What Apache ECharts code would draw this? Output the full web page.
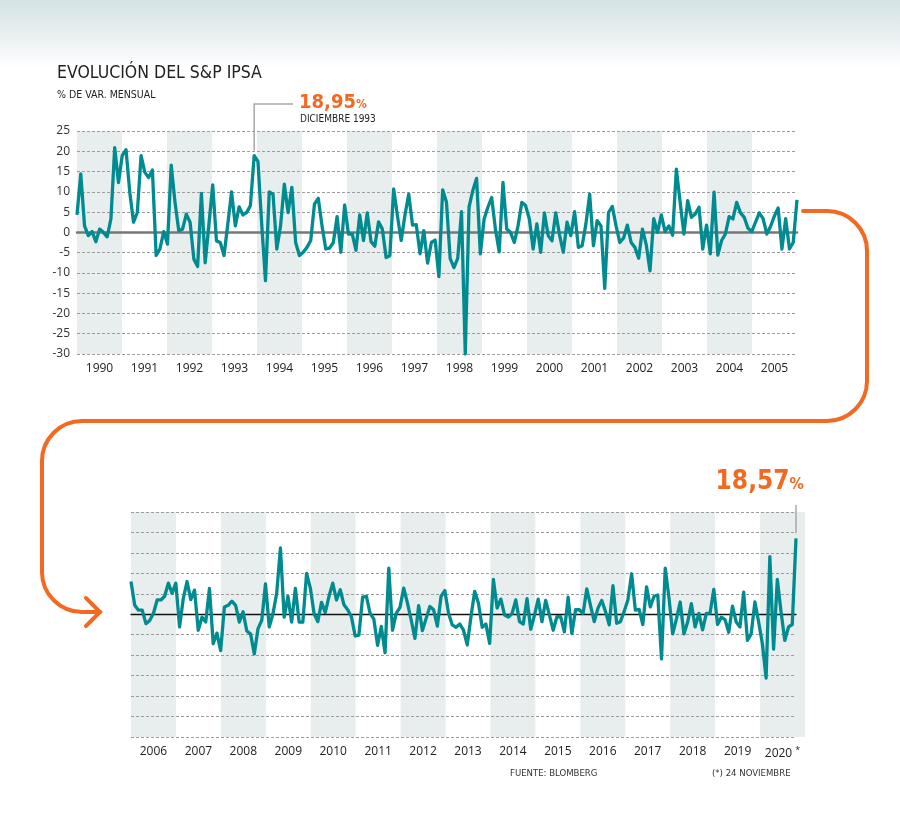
<!DOCTYPE html>
<html lang="es">
<head>
    <meta charset="UTF-8"/>
    <title>Evolución del S&amp;P IPSA</title>
    <script src="https://cdn.jsdelivr.net/npm/echarts@6/dist/echarts.min.js"></script>
    <style>
        html, body { margin: 0; padding: 0; }
        body {
            width: 900px; height: 821px;
            background: linear-gradient(to bottom, #d4e2e6 0px, #e9f0f1 35px, #ffffff 68px, #ffffff 100%);
        }
        #chart { width: 900px; height: 821px; }
    </style>
</head>
<body>
<div id="chart"></div>
<script type="text/javascript">
    // años de cada panel
    var yearsTop = ['1990', '1991', '1992', '1993', '1994', '1995', '1996', '1997',
        '1998', '1999', '2000', '2001', '2002', '2003', '2004', '2005'];
    var yearsBottom = ['2006', '2007', '2008', '2009', '2010', '2011', '2012', '2013',
        '2014', '2015', '2016', '2017', '2018', '2019', '2020'];

    // % de variacion mensual, ene 1990 - dic 2005
    var ipsaTop = [
        4.3, 14.4, 1.6, -0.8, 0.2, -2.3, 0.8, 0.0, -1.1, 3.3, 20.9, 12.3,
        18.9, 20.4, 9.9, 2.5, 4.9, 18.9, 14.8, 13.5, 15.4, -5.7, -4.1, 0.2,
        -2.9, 16.6, 7.4, 0.4, 0.8, 4.5, 2.5, -6.6, -8.4, 9.6, -7.5, 2.0,
        11.7, -2.1, -2.5, -5.7, 2.0, 10.0, 1.6, 6.3, 4.3, 4.9, 6.6, 18.95,
        17.5, 2.0, -11.9, 10.0, 9.4, -4.1, 1.6, 11.9, 4.9, 11.1, -2.5, -5.7,
        -4.9, -3.7, -2.0, 7.0, 8.4, 1.6, -4.1, -3.9, -2.5, 3.9, -4.9, 6.8,
        -0.4, -0.4, -4.4, 4.3, -2.0, 4.8, -2.3, -3.4, 2.6, 0.8, -6.2, -5.7,
        10.7, 4.1, -2.0, 4.3, 9.4, 1.8, 1.9, -5.3, 0.4, -7.6, -2.5, -1.9,
        -10.9, 10.5, 7.5, -6.5, -8.7, -6.4, 5.1, -30.0, 6.2, 10.3, 13.3, -5.3,
        3.3, 6.2, 8.6, 0.8, -4.8, 12.3, 0.8, 0.0, -2.5, 1.6, 7.4, 6.6,
        3.3, -4.1, 2.1, -4.9, 4.8, -0.8, -2.1, 4.8, -0.6, -4.9, 2.5, -0.8,
        5.1, -3.7, -3.3, 2.1, 9.4, -3.3, 2.9, 1.6, -13.8, 4.9, 6.4, 1.6,
        -2.5, -1.4, 1.8, -2.5, -3.7, -6.4, 0.8, -3.0, -9.5, 3.4, 0.0, 4.3,
        0.2, 1.6, -0.7, 15.6, 7.4, -0.4, 7.8, 3.7, 4.5, 6.2, -4.1, 1.8,
        -5.3, 9.9, -5.6, -2.0, -0.4, 3.9, 3.3, 7.4, 4.8, 3.7, 1.0, 0.2,
        2.5, 4.8, 3.4, -0.4, 1.5, 4.0, 6.0, -4.1, 3.4, -4.1, -2.5, 8.0
    ];

    // % de variacion mensual, ene 2006 - nov 2020
    var ipsaBottom = [
        8.0, 2.2, 1.0, 1.0, -2.3, -1.5, 0.2, 3.5, 3.5, 4.4, 7.6, 5.1,
        7.6, -3.1, 3.9, 8.0, 3.6, 5.9, -3.9, -0.7, -1.9, 6.3, -7.2, -4.6,
        -8.9, 1.8, 2.2, 3.2, 2.2, -1.9, 0.6, -4.1, -4.8, -9.7, -3.5, -1.5,
        7.4, -3.1, 0.2, 5.1, 16.2, -0.7, 4.4, -1.9, 6.3, -1.9, -1.9, 10.0,
        6.4, 0.2, -1.8, 2.9, 0.4, 4.4, 7.6, 3.5, 6.0, 2.3, 1.1, -0.6,
        -5.3, -5.1, 4.2, 4.4, 0.2, -1.2, -7.6, -3.0, -9.4, 11.3, -3.9, 0.2,
        1.7, 6.4, 2.7, -1.4, -5.9, 2.1, -4.0, -1.0, 1.9, 1.1, -2.9, 4.4,
        5.8, 0.2, -2.6, -3.2, -2.4, -3.9, -7.5, -0.6, 5.6, 2.7, -3.2, -2.4,
        -7.1, 8.5, 1.5, 3.7, -0.2, -0.7, 0.2, 3.5, -1.8, -2.4, 3.8, -3.7,
        -0.2, 3.7, -1.8, 3.4, -0.2, -3.9, -0.6, -0.6, -4.3, 4.2, -4.7, 1.1,
        1.1, 0.2, 6.2, 2.1, -1.8, 1.5, 3.4, 0.7, -2.6, 7.0, -2.2, -1.8,
        0.7, 3.5, 9.9, 1.0, 1.2, -2.5, 6.7, 1.8, 4.4, 4.7, -10.9, 11.3,
        4.0, -4.8, -1.1, 3.0, -4.8, -1.9, 2.6, -3.1, 0.2, -3.8, 0.2, 0.3,
        6.1, -2.5, -0.7, -1.3, -4.4, 2.0, -1.9, -3.1, 5.4, -6.4, -4.8, 3.0,
        -1.9, -7.2, -15.6, 14.1, -8.5, 8.5, 0.6, -6.4, -3.1, -2.5, 18.57
    ];

    var yMin = -30, yMax = 25, yStep = 5;
    var markTop = 47;      // diciembre 1993
    var markBottom = 178;  // noviembre 2020

    function monthsOf(years, count) {
        var out = [];
        years.forEach(function (y) {
            for (var m = 1; m <= 12; m++) out.push(y + '-' + (m < 10 ? '0' + m : m));
        });
        return out.slice(0, count);
    }
    var monthsTop = monthsOf(yearsTop, ipsaTop.length);
    var monthsBottom = monthsOf(yearsBottom, ipsaBottom.length);

    var teal = '#008b91';
    var orange = '#f26a22';
    var bandColor = '#e8eded';
    var fontAxis = "'Open Sans', 'Noto Sans', sans-serif";
    var fontHead = "'DejaVu Sans Condensed', Roboto, sans-serif";

    function withMark(values, idx) {
        return values.map(function (v, i) {
            if (i !== idx) return v;
            return {
                value: v, symbol: 'circle', symbolSize: 8,
                itemStyle: {color: '#ffffff', borderColor: '#f5a623', borderWidth: 2}
            };
        });
    }

    function yAxisOf(grid, showLabels) {
        return {
            type: 'value', gridIndex: grid, min: yMin, max: yMax, interval: yStep, z: 2,
            axisLine: {show: false}, axisTick: {show: false},
            axisLabel: {show: showLabels, color: '#333', fontSize: 12, fontFamily: fontAxis, margin: 7},
            splitLine: {show: true, lineStyle: {color: '#9c9c9c', type: [3, 2], width: 1}}
        };
    }

    function hiddenY(grid) {
        return {type: 'value', gridIndex: grid, min: yMin, max: yMax, show: false, splitLine: {show: false}};
    }

    function bandAxisOf(grid, years) {
        return {
            type: 'category', gridIndex: grid, data: years, boundaryGap: true, z: 0,
            axisLine: {show: false}, axisTick: {show: false},
            axisLabel: {
                interval: 0, color: '#222', fontSize: 12, fontFamily: fontAxis, margin: 9,
                formatter: function (v) { return v === '2020' ? '2020 {s|*}' : v; },
                rich: {s: {fontSize: 9, verticalAlign: 'top', color: '#222', padding: [0, 0, 6, 0]}}
            },
            splitArea: {show: true, interval: 0, areaStyle: {color: [bandColor, 'rgba(255,255,255,0)']}},
            splitLine: {show: false}
        };
    }

    function monthAxisOf(grid, months, zeroColor, zeroWidth) {
        return {
            type: 'category', gridIndex: grid, data: months, boundaryGap: false, z: 2,
            axisLine: {show: true, onZero: true, lineStyle: {color: zeroColor, width: zeroWidth}},
            axisTick: {show: false}, axisLabel: {show: false}, splitLine: {show: false}
        };
    }

    var chart = echarts.init(document.getElementById('chart'), null, {renderer: 'canvas'});

    var option = {
        animation: false,
        grid: [
            {left: 77, right: 103, top: 131, height: 223},
            {left: 77, right: 103, top: 131, height: 223},
            {left: 131, right: 95, top: 512, height: 225},
            {left: 131, right: 104, top: 512, height: 225}
        ],
        xAxis: [
            bandAxisOf(0, yearsTop),
            monthAxisOf(1, monthsTop, '#777777', 2.5),
            bandAxisOf(2, yearsBottom),
            monthAxisOf(3, monthsBottom, '#111111', 1.3)
        ],
        yAxis: [
            hiddenY(0),
            yAxisOf(1, true),
            hiddenY(2),
            yAxisOf(3, false)
        ],
        series: [
            {
                type: 'line', xAxisIndex: 1, yAxisIndex: 1, z: 3,
                data: withMark(ipsaTop, markTop), symbol: 'none',
                lineStyle: {color: teal, width: 3.3, join: 'round'}, itemStyle: {color: teal}
            },
            {
                type: 'line', xAxisIndex: 3, yAxisIndex: 3, z: 3,
                data: withMark(ipsaBottom, markBottom), symbol: 'none',
                lineStyle: {color: teal, width: 3.3, join: 'round'}, itemStyle: {color: teal}
            }
        ]
    };
    chart.setOption(option);

    // anotaciones y flecha
    var p1 = chart.convertToPixel({seriesIndex: 0}, [monthsTop[markTop], ipsaTop[markTop]]);
    var p2 = chart.convertToPixel({seriesIndex: 1}, [monthsBottom[markBottom], ipsaBottom[markBottom]]);
    var leader = {stroke: '#a8a8a8', lineWidth: 1.5};
    var arrow = {stroke: orange, lineWidth: 4, fill: 'none', lineCap: 'round'};
    var H = Math.PI / 2;

    var graphics = [
        {type: 'text', left: 57, top: 64, style: {text: 'EVOLUCIÓN DEL S&P IPSA', fill: '#222', font: '17.5px ' + fontHead}},
        {type: 'text', left: 57, top: 90, style: {text: '% DE VAR. MENSUAL', fill: '#222', font: '10.5px ' + fontHead}},
        {type: 'text', left: 299, top: 93, style: {
            text: '{a|18,95}{b|%}', rich: {
                a: {fontSize: 20, fontWeight: 'bold', fill: orange, fontFamily: fontHead},
                b: {fontSize: 12, fontWeight: 'bold', fill: orange, fontFamily: fontHead, padding: [4, 0, 0, 0]}
            }}},
        {type: 'text', left: 300, top: 114, style: {text: 'DICIEMBRE 1993', fill: '#222', font: '10px ' + fontHead}},
        {type: 'text', right: 96, top: 469, style: {
            text: '{a|18,57}{b|%}', rich: {
                a: {fontSize: 26, fontWeight: 'bold', fill: orange, fontFamily: fontHead},
                b: {fontSize: 16, fontWeight: 'bold', fill: orange, fontFamily: fontHead, padding: [6, 0, 0, 0]}
            }}},
        {type: 'text', left: 510, top: 769, style: {text: 'FUENTE: BLOMBERG', fill: '#333', font: '9.5px ' + fontHead}},
        {type: 'text', left: 712, top: 769, style: {text: '(*) 24 NOVIEMBRE', fill: '#333', font: '9.5px ' + fontHead}},
        {type: 'polyline', shape: {points: [[p1[0], p1[1] - 5], [p1[0], 104], [293, 104]]}, style: leader, z: 1},
        {type: 'line', shape: {x1: p2[0], y1: 505, x2: p2[0], y2: p2[1] - 5}, style: leader, z: 1},
        // flecha naranja
        {type: 'line', shape: {x1: 803, y1: 211, x2: 827, y2: 211}, style: arrow},
        {type: 'arc', shape: {cx: 827, cy: 251, r: 40, startAngle: -H, endAngle: 0, clockwise: true}, style: arrow},
        {type: 'line', shape: {x1: 867, y1: 251, x2: 867, y2: 381}, style: arrow},
        {type: 'arc', shape: {cx: 827, cy: 381, r: 40, startAngle: 0, endAngle: H, clockwise: true}, style: arrow},
        {type: 'line', shape: {x1: 827, y1: 421, x2: 82, y2: 421}, style: arrow},
        {type: 'arc', shape: {cx: 82, cy: 461, r: 40, startAngle: Math.PI, endAngle: 3 * H, clockwise: true}, style: arrow},
        {type: 'line', shape: {x1: 42, y1: 461, x2: 42, y2: 572}, style: arrow},
        {type: 'arc', shape: {cx: 82, cy: 572, r: 40, startAngle: H, endAngle: Math.PI, clockwise: true}, style: arrow},
        {type: 'line', shape: {x1: 82, y1: 612, x2: 100, y2: 612}, style: arrow},
        {type: 'polyline', shape: {points: [[86, 598], [100, 612], [86, 626]]}, style: arrow}
    ];
    chart.setOption({graphic: graphics});
</script>
</body>
</html>
